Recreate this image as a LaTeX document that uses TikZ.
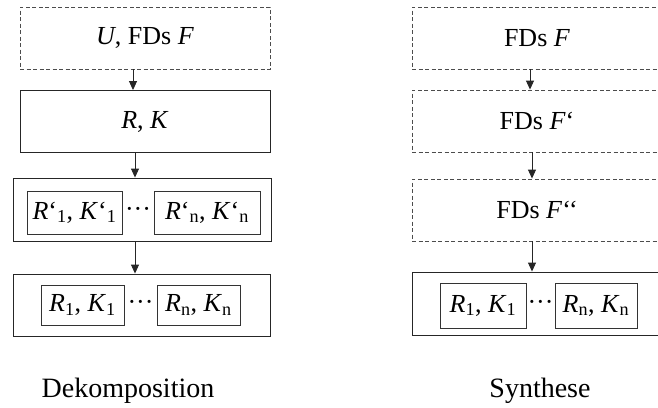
\documentclass[tikz,border=0pt]{standalone}
\usepackage{fontspec}
\setmainfont{Liberation Serif}
\usetikzlibrary{arrows.meta}
\newcommand{\boxfont}{\fontsize{26}{30}\selectfont}
\newcommand{\labfont}{\fontsize{28}{32}\selectfont}
\newcommand{\sq}{\textquoteleft}
\tikzset{
  frame/.style={draw=black!85, line width=0.9pt, inner sep=0pt, font=\boxfont,
    minimum width=#1, minimum height=62pt},
  dframe/.style={frame=#1, draw=black!70, dash pattern=on 4pt off 2.5pt},
  cell/.style={draw=black!80, line width=0.8pt, inner sep=0pt, font=\boxfont,
    minimum width=#1},
  flow/.style={draw=black!85, line width=0.9pt, -{Triangle[length=9pt,width=8pt]}},
  caption/.style={font=\labfont}
}
\begin{document}
\begin{tikzpicture}[x=1pt, y=-1pt]
  \useasboundingbox (0,0) rectangle (658,407);

  % Dekomposition column
  \node[dframe=250pt] (b1) at (145,38)    {\textit{U}, FDs \textit{F}};
  \node[frame=250pt]  (b2) at (145,121.5) {\textit{R}, \textit{K}};
  \node[frame=258pt, minimum height=63pt] (b3) at (142,209.5) {};
  \node[frame=257pt]  (b4) at (141.5,305) {};

  \node[cell=95pt,  minimum height=43pt] (c31) at (74.5,212.5)
    {\textit{R}\sq\textsubscript{1}, \textit{K}\sq\textsubscript{1}};
  \node[cell=106pt, minimum height=43pt] (c32) at (207,212.5)
    {\textit{R}\sq\textsubscript{n}, \textit{K}\sq\textsubscript{n}};
  \node[font=\boxfont, inner sep=0pt] (d3) at (138,212.5) {···};

  \node[cell=83pt, minimum height=40pt] (c41) at (82.5,305)
    {\textit{R}\textsubscript{1}, \textit{K}\textsubscript{1}};
  \node[cell=83pt, minimum height=40pt] (c42) at (198.5,305)
    {\textit{R}\textsubscript{n}, \textit{K}\textsubscript{n}};
  \node[font=\boxfont, inner sep=0pt] (d4) at (140.5,305) {···};

  \draw[flow] ([xshift=-12pt]b1.south) -- ([xshift=-12pt]b2.north);
  \draw[flow] ([xshift=-10pt]b2.south) -- ([xshift=-7pt]b3.north);
  \draw[flow] ([xshift=-7pt]b3.south) -- ([xshift=-6.5pt]b4.north);

  % Synthese column
  \node[dframe=250pt] (s1) at (537,38)  {FDs \textit{F}};
  \node[dframe=250pt] (s2) at (537,121) {FDs \textit{F}\sq};
  \node[dframe=250pt] (s3) at (537,210) {FDs \textit{F}\sq\sq};
  \node[frame=250pt, minimum height=63pt] (s4) at (537,303.5) {};

  \node[cell=86pt, minimum height=45pt] (t41) at (483,305.5)
    {\textit{R}\textsubscript{1}, \textit{K}\textsubscript{1}};
  \node[cell=82pt, minimum height=45pt] (t42) at (596,305.5)
    {\textit{R}\textsubscript{n}, \textit{K}\textsubscript{n}};
  \node[font=\boxfont, inner sep=0pt] (e4) at (540.5,305.5) {···};

  \draw[flow] ([xshift=-7pt]s1.south) -- ([xshift=-7pt]s2.north);
  \draw[flow] ([xshift=-5pt]s2.south) -- ([xshift=-5pt]s3.north);
  \draw[flow] ([xshift=-5pt]s3.south) -- ([xshift=-5pt]s4.north);

  % column captions
  \node[caption] (l1) at (128,391) {Dekomposition};
  \node[caption] (l2) at (540,391) {Synthese};
\end{tikzpicture}
\end{document}
